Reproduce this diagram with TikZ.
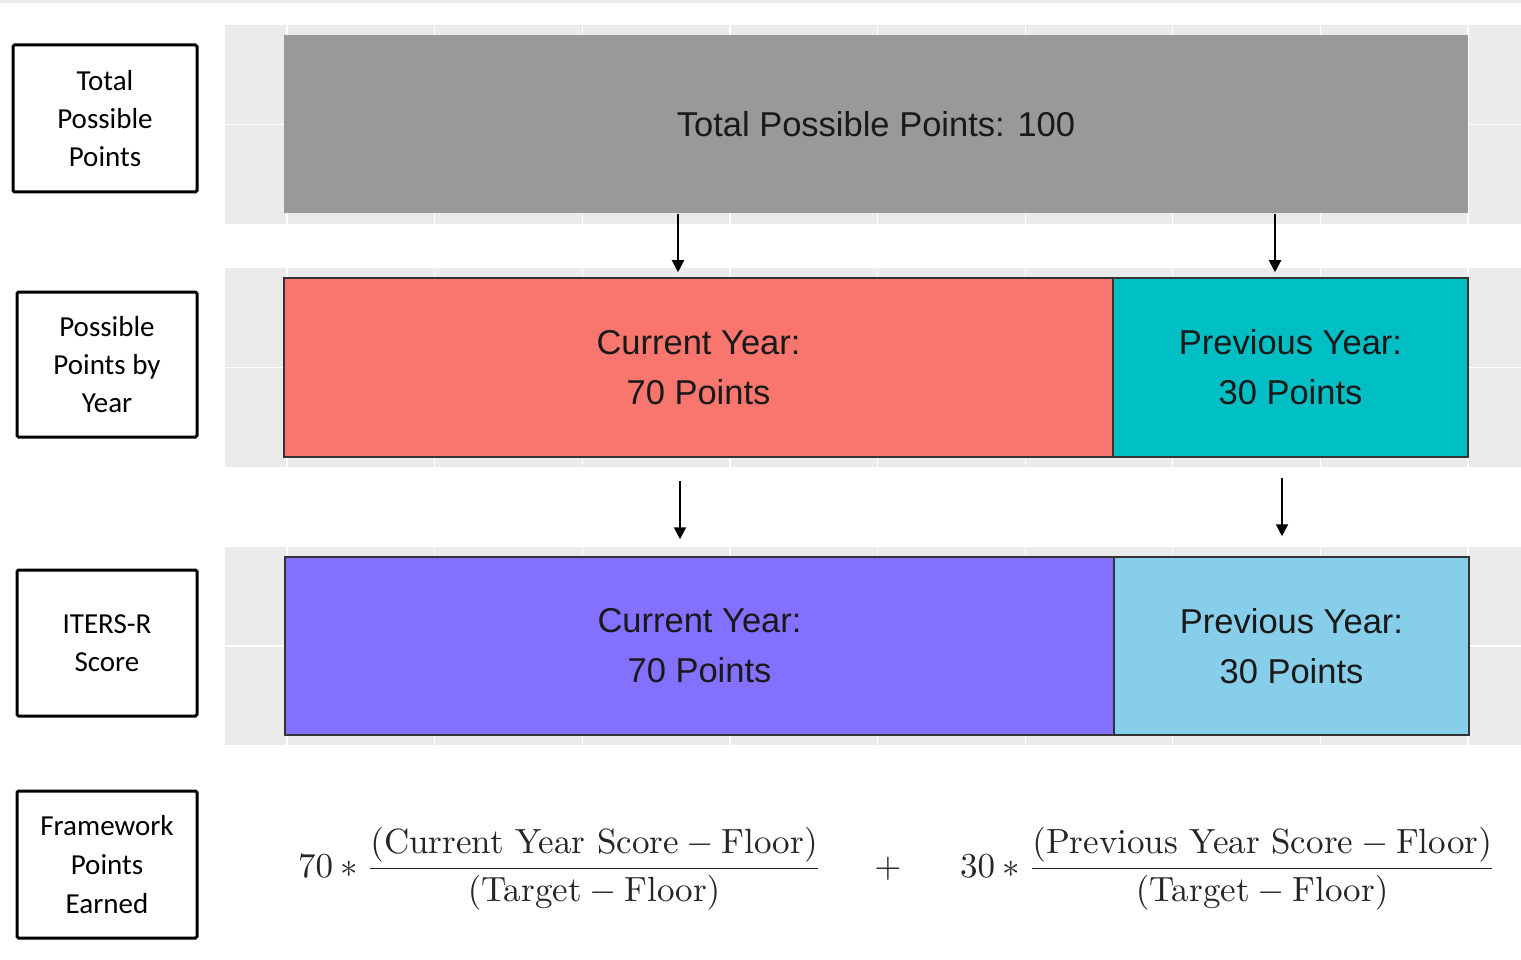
\documentclass[tikz,border=0pt]{standalone}
\usepackage{amsmath}
\usepackage{graphicx}
\usepackage{fontspec}
\newfontfamily\labfam{Carlito}
\newfontfamily\barfam{Liberation Sans}
\usetikzlibrary{arrows.meta}
\definecolor{bandgray}{HTML}{EBEBEB}
\definecolor{topgray}{HTML}{EDEDED}
\definecolor{totgray}{HTML}{999999}
\definecolor{cred}{HTML}{F8766D}
\definecolor{cteal}{HTML}{00BFC4}
\definecolor{cpurple}{HTML}{8470FF}
\definecolor{csky}{HTML}{87CEEB}
\definecolor{edgegray}{HTML}{333333}
\begin{document}
\begin{tikzpicture}[x=1pt,y=-1pt,
  labbox/.style={draw=black, line width=3pt, rounded corners=1.5pt, fill=white,
    minimum width=180pt, minimum height=146pt, inner sep=0pt, align=center,
    font=\labfam\fontsize{29}{38}\selectfont, text=black},
  bar/.style={draw=edgegray, line width=1.5pt, inner sep=0pt, align=center,
    font=\barfam\fontsize{34.5}{50}\selectfont, text=black!90},
  arr/.style={-{Triangle[length=12pt,width=12pt]}, line width=2pt, black},
  gridline/.style={white, line width=1.2pt},
  fm/.style={inner sep=0pt, text=black!85}]
\useasboundingbox (0,0) rectangle (1521,960);
\fill[white] (0,0) rectangle (1521,960);
\fill[topgray] (0,0) rectangle (1521,3);
% background bands
\foreach \t/\b in {25/224, 268/467, 547/745}{
  \fill[bandgray] (225,\t) rectangle (1521,\b);
  \draw[gridline] (225,{(\t+\b)/2}) -- (1521,{(\t+\b)/2});
  \foreach \x in {287,434.6,582.3,729.9,877.5,1025.1,1172.8,1320.4,1468}{
    \draw[gridline] (\x,\t) -- (\x,\b);
  }
}
% label boxes
\node[labbox, minimum width=184pt, minimum height=147pt] (l1) at (105,118.5) {Total\\Possible\\Points};
\node[labbox, minimum height=145pt] (l2) at (107,364.5) {Possible\\Points by\\Year};
\node[labbox] (l3) at (107,643) {ITERS-R\\Score};
\node[labbox, minimum height=147pt, font=\labfam\fontsize{29}{39}\selectfont] (l4) at (107,864.5) {Framework\\Points\\Earned};
% bars
\node[bar, draw=none, fill=totgray, minimum width=1184pt, minimum height=178pt] (tot) at (876,124) {Total Possible Points: 100};
\node[bar, fill=cred, minimum width=829pt, minimum height=179pt] (cur) at (698.5,367.5) {Current Year:\\70 Points};
\node[bar, fill=cteal, minimum width=355pt, minimum height=179pt] (prev) at (1290.5,367.5) {Previous Year:\\30 Points};
\node[bar, fill=cpurple, minimum width=829pt, minimum height=178pt] (icur) at (699.5,646) {Current Year:\\70 Points};
\node[bar, fill=csky, minimum width=355pt, minimum height=178pt] (iprev) at (1291.5,646) {Previous Year:\\30 Points};
% arrows
\coordinate (c1) at (678,0);
\coordinate (c2) at (1275,0);
\coordinate (c3) at (680,0);
\coordinate (c4) at (1282,0);
\draw[arr, shorten >=5pt] (tot.south -| c1) -- (cur.north -| c1);
\draw[arr, shorten >=5pt] (tot.south -| c2) -- (prev.north -| c2);
\draw[arr, shorten <=23pt, shorten >=17pt] (cur.south -| c3) -- (icur.north -| c3);
\draw[arr, shorten <=20pt, shorten >=20pt] (prev.south -| c4) -- (iprev.north -| c4);
% formula
\node[fm, anchor=base west] (f1) at (298,877)
  {\scalebox{3.5}{$70 \ast \dfrac{(\text{Current Year Score} - \text{Floor})}{(\text{Target} - \text{Floor})}$}};
\node[fm, anchor=base] (plus) at (888,877) {\scalebox{3.5}{$+$}};
\node[fm, anchor=base west] (f2) at (960,877)
  {\scalebox{3.5}{$30 \ast \dfrac{(\text{Previous Year Score} - \text{Floor})}{(\text{Target} - \text{Floor})}$}};
\end{tikzpicture}
\end{document}
